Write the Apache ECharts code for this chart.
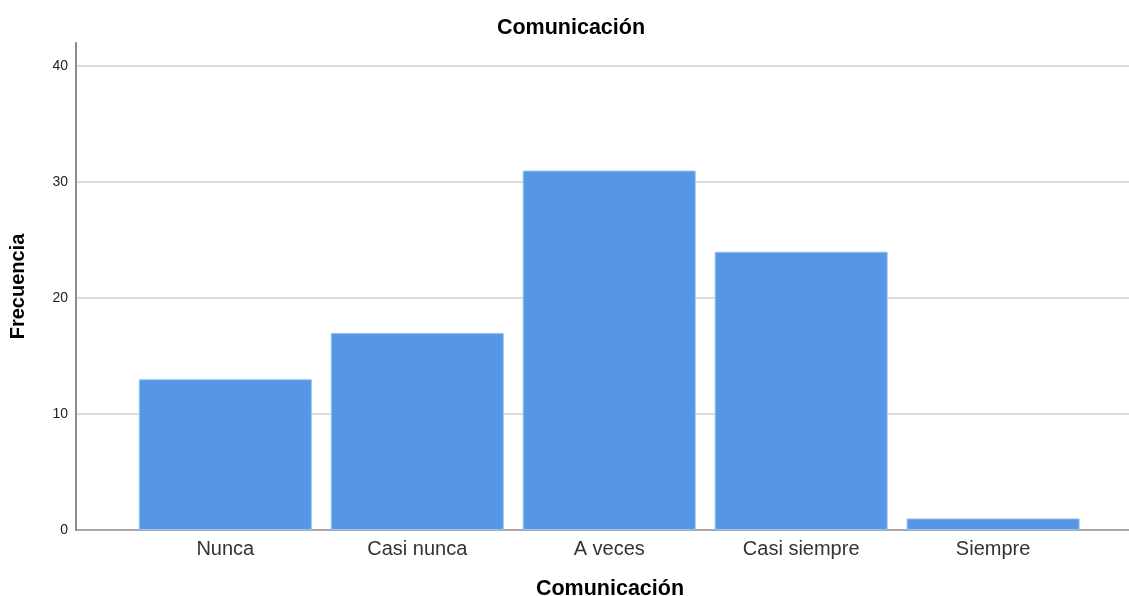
<!DOCTYPE html>
<html>
<head>
<meta charset="utf-8">
<script src="https://cdn.jsdelivr.net/npm/echarts@6/dist/echarts.min.js"></script>
<style>
  html, body { margin: 0; padding: 0; background: #fff; }
  #chart { width: 1129px; height: 596px; }
</style>
</head>
<body>
<div id="chart"></div>
<script>
// Frequency of responses for "Comunicación"
const categories = ['Nunca', 'Casi nunca', 'A veces', 'Casi siempre', 'Siempre'];
const frequencies = [13, 17, 31, 24, 1];
const yTicks = [0, 10, 20, 30, 40];
const chartTitle = 'Comunicación';
const xTitle = 'Comunicación';
const yTitle = 'Frecuencia';

const FONT = '"Liberation Sans", Arial, sans-serif';

// bars sit at integer positions on a numeric x scale so the frame can extend past the bands
const barData = frequencies.map((v, i) => [i, v]);

const chart = echarts.init(document.getElementById('chart'), null, { renderer: 'canvas' });

chart.setOption({
  backgroundColor: '#ffffff',
  animation: false,
  graphic: [
    {
      type: 'text', x: 571, y: 28,
      style: { text: chartTitle, fontFamily: FONT, fontSize: 21.5, fontWeight: 'bold', fill: '#000', align: 'center', verticalAlign: 'middle' }
    },
    {
      type: 'text', x: 610, y: 589,
      style: { text: xTitle, fontFamily: FONT, fontSize: 21.5, fontWeight: 'bold', fill: '#000', align: 'center', verticalAlign: 'middle' }
    }
  ],
  grid: { left: 75, right: 0, top: 43, bottom: 66, containLabel: false },
  xAxis: {
    type: 'value',
    min: -0.778,
    max: 4.708,
    axisLine: { show: true, onZero: false, lineStyle: { color: '#8c8c8c', width: 1.5 } },
    axisTick: { show: false },
    splitLine: { show: false },
    axisLabel: {
      customValues: categories.map((_, i) => i),
      formatter: v => categories[Math.round(v)] ?? '',
      fontFamily: FONT, fontSize: 20, color: '#333', margin: 9
    }
  },
  yAxis: {
    type: 'value',
    min: 0,
    max: 42,
    interval: 10,
    name: yTitle,
    nameLocation: 'middle',
    nameGap: 48,
    nameTextStyle: { fontFamily: FONT, fontSize: 20, fontWeight: 'bold', color: '#000' },
    axisLine: { show: true, onZero: false, lineStyle: { color: '#8c8c8c', width: 2 } },
    axisTick: { show: false },
    axisLabel: {
      customValues: yTicks,
      fontFamily: FONT, fontSize: 14, color: '#222', margin: 8
    },
    splitLine: { show: true, showMaxLine: false, showMinLine: false, lineStyle: { color: '#cfcfcf', width: 1.5 } }
  },
  series: [{
    type: 'bar',
    data: barData,
    barWidth: 173,
    itemStyle: { color: '#5596e5', borderColor: '#9cc1f0', borderWidth: 1 }
  }]
});
</script>
</body>
</html>
